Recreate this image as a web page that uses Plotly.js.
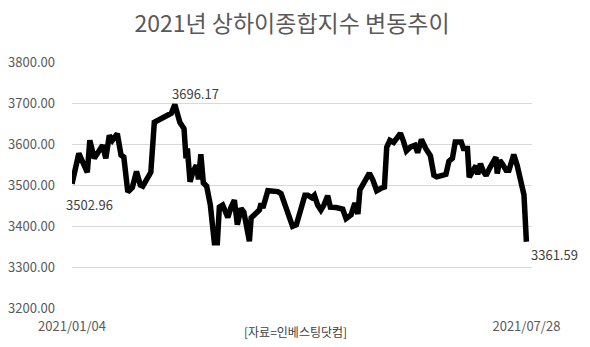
<!DOCTYPE html>
<html>
<head>
<meta charset="utf-8">
<script src="https://cdn.plot.ly/plotly-3.0.1.min.js"></script>
<style>html,body{margin:0;padding:0;background:#fff;}#chart{width:590px;height:347px;}</style>
</head>
<body>
<div id="chart"></div>
<script>
// trading-day position (Jan 4 = 0, Jul 28 = 138)
const dayIndex = [0,2.07,4.65,5.41,6.77,8.28,9.30,10.27,11.33,12.25,13.76,14.89,15.74,16.95,18.32,19.59,20.75,21.51,22.97,23.94,25.00,28.74,30.17,31.23,32.75,34.03,34.63,35.03,35.85,36.70,37.76,38.43,39.13,39.89,40.89,42.02,43.23,44.14,44.75,45.75,47.33,48.30,49.31,50.22,51.34,52.19,52.95,53.87,54.41,55.44,56.90,57.42,57.97,59.48,62.52,63.49,65.50,66.99,68.14,69.57,70.73,71.58,72.85,73.61,74.61,75.59,76.50,77.65,78.47,80.20,82.21,83.24,84.76,85.91,86.83,87.43,88.80,90.32,91.38,92.54,93.87,94.88,95.58,96.55,97.70,98.52,99.74,100.65,101.56,102.87,104.14,104.96,106.12,107.42,108.85,109.91,110.77,112.19,113.56,114.47,115.53,116.39,118.21,118.88,120.09,120.64,121.70,122.68,123.22,124.04,125.01,125.77,126.77,127.84,128.75,129.14,129.90,130.72,131.85,132.70,134.16,135.19,136.71,137.26,138];
// Shanghai Composite closing values
const indexValues = [3502.96,3577,3531,3609,3565,3585,3597,3565,3621,3609,3625,3573,3568,3483,3494,3533,3500,3497,3517,3531,3653,3668,3675,3696.17,3653,3637,3565,3589,3508,3531,3548,3514,3575,3505,3497,3451,3359,3359,3446,3451,3421,3446,3463,3403,3443,3434,3395,3363,3420,3427,3439,3455,3444,3486,3484,3479,3427,3399,3403,3439,3475,3475,3469,3475,3451,3439,3451,3474,3446,3445,3441,3418,3427,3456,3429,3488,3507,3529,3512,3486,3492,3495,3592,3609,3604,3613,3626,3607,3583,3593,3597,3579,3611,3589,3571,3524,3520,3523,3526,3558,3565,3605,3605,3589,3589,3519,3532,3547,3526,3552,3532,3523,3540,3556,3568,3528,3560,3551,3536,3536,3574,3548,3500,3476,3361.59];
const dateLabels = ["2021/01/04", "2021/07/28"];
const yTicks = [3200, 3300, 3400, 3500, 3600, 3700, 3800];
const titleText = "2021년 상하이종합지수 변동추이";
const sourceText = "[자료=인베스팅닷컴]";
const labelledPoints = [0, 23, indexValues.length - 1];

const font = "'Noto Sans CJK KR', 'Noto Sans', sans-serif";
const last = dayIndex.length - 1;

const trace = {
  x: dayIndex, y: indexValues, type: 'scatter', mode: 'lines',
  line: {color: '#000000', width: 5.5, shape: 'linear'},
  hoverinfo: 'skip'
};

const offsets = [{xs: 17, ys: -21}, {xs: 21, ys: 11}, {xs: 28, ys: -13}];
const annotations = labelledPoints.map((i, k) => ({
  x: dayIndex[i], y: indexValues[i], xref: 'x', yref: 'y',
  text: indexValues[i].toFixed(2), showarrow: false,
  xshift: offsets[k].xs, yshift: offsets[k].ys,
  font: {family: font, size: 13, color: '#404040'}
}));
annotations.push({
  x: 0.485, y: -0.095, xref: 'paper', yref: 'paper', yanchor: 'middle',
  text: sourceText, showarrow: false,
  font: {family: font, size: 12, color: '#404040'}
});

const layout = {
  width: 590, height: 347,
  margin: {l: 72, r: 58, t: 62, b: 39},
  paper_bgcolor: '#ffffff', plot_bgcolor: '#ffffff',
  showlegend: false,
  title: {text: titleText, x: 0.495, xanchor: 'center', y: 0.93, yanchor: 'middle',
          font: {family: font, size: 23, color: '#595959'}},
  xaxis: {
    range: [0, 139.7], showgrid: false, zeroline: false, showline: false,
    tickmode: 'array', tickvals: [dayIndex[0], dayIndex[last]], ticktext: dateLabels,
    ticks: '', ticklabelstandoff: 9,
    tickfont: {family: font, size: 13, color: '#595959'}
  },
  yaxis: {
    range: [3200, 3800], tickmode: 'array', tickvals: yTicks,
    ticktext: yTicks.map(v => v.toFixed(2)),
    showgrid: true, gridcolor: '#d9d9d9', gridwidth: 1, zeroline: false, showline: false,
    ticks: '', ticklabelstandoff: 16,
    tickfont: {family: font, size: 13, color: '#595959'}
  },
  annotations: annotations
};

Plotly.newPlot('chart', [trace], layout, {staticPlot: true, displayModeBar: false});
</script>
</body>
</html>
